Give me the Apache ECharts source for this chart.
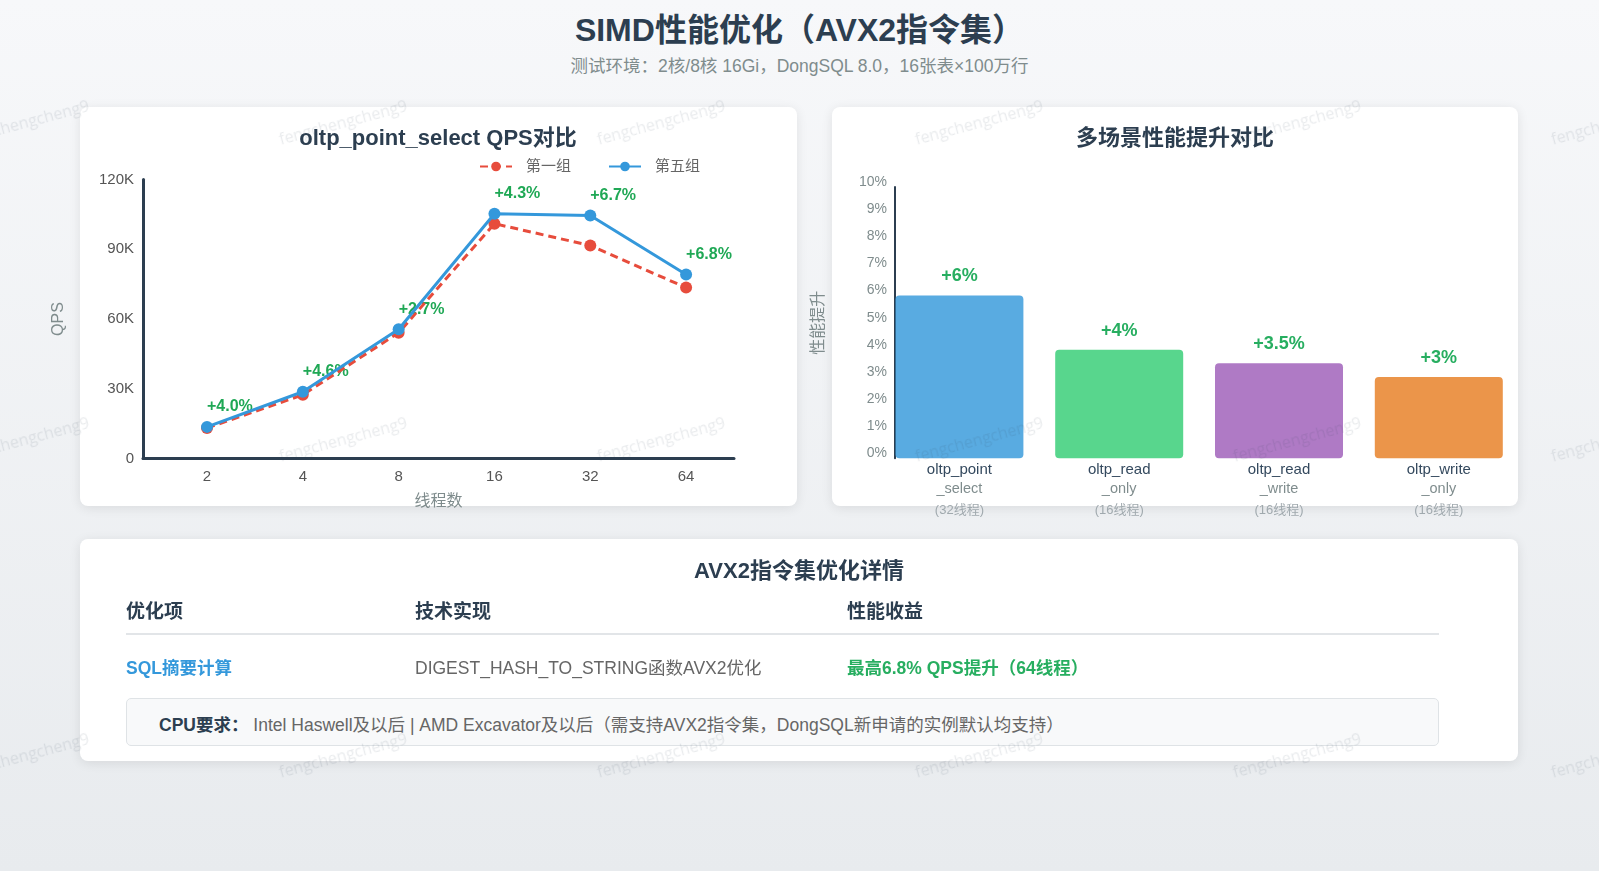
<!DOCTYPE html>
<html>
<head>
<meta charset="utf-8">
<script src="https://cdn.jsdelivr.net/npm/echarts@6/dist/echarts.min.js"></script>
<style>
html,body{margin:0;padding:0;width:1599px;height:871px;overflow:hidden;}
body{background:linear-gradient(180deg,#f7f8fa 0%,#e8ebee 100%);font-family:"Liberation Sans","Noto Sans CJK SC",sans-serif;position:relative;}
.h1{position:absolute;left:0;width:1599px;top:12px;text-align:center;font-size:32px;line-height:36px;font-weight:bold;color:#2c3e50;}
.sub{position:absolute;left:0;width:1599px;top:55px;text-align:center;font-size:17.5px;line-height:22px;color:#7f8c8d;}
.card{position:absolute;background:#fff;border-radius:8px;box-shadow:0 2px 12px rgba(0,0,0,0.09);}
.chart{position:absolute;}
.t3{position:absolute;left:0;width:100%;top:17px;text-align:center;font-size:22px;line-height:30px;font-weight:bold;color:#2c3e50;}
.th{position:absolute;top:60px;font-size:19px;line-height:26px;font-weight:bold;color:#2c3e50;white-space:nowrap;}
.hr{position:absolute;left:46px;top:94px;width:1313px;height:2px;background:#e2e5e8;}
.td{position:absolute;top:116px;font-size:17.5px;line-height:26px;color:#666;white-space:nowrap;}
.note{position:absolute;left:46px;top:159px;width:1313px;height:48px;box-sizing:border-box;border:1px solid #dfe3e6;border-radius:5px;background:#f8f9fa;padding-left:32px;padding-top:3px;font-size:17.5px;line-height:46px;color:#666;white-space:nowrap;}
.note b{color:#2c3e50;}
#wm{position:absolute;left:0;top:0;width:1599px;height:871px;pointer-events:none;z-index:10;overflow:hidden;}
#wm span{position:absolute;font-size:16px;color:rgba(44,62,80,0.1);white-space:nowrap;transform:translate(-50%,-50%) rotate(-15deg);font-family:"Open Sans","Liberation Sans",sans-serif;}
</style>
</head>
<body>
<div class="h1">SIMD性能优化（AVX2指令集）</div>
<div class="sub">测试环境：2核/8核 16Gi，DongSQL 8.0，16张表×100万行</div>

<div class="card" style="left:80px;top:107px;width:717px;height:399px;"></div>
<div class="card" style="left:832px;top:107px;width:686px;height:399px;"></div>

<div class="chart" id="c1" style="left:0px;top:100px;width:810px;height:430px;"></div>
<div class="chart" id="c2" style="left:790px;top:100px;width:760px;height:430px;"></div>

<div class="card" style="left:80px;top:539px;width:1438px;height:222px;">
  <div class="t3">AVX2指令集优化详情</div>
  <div class="th" style="left:46px;">优化项</div>
  <div class="th" style="left:335px;">技术实现</div>
  <div class="th" style="left:767px;">性能收益</div>
  <div class="hr"></div>
  <div class="td" style="left:46px;color:#3498db;font-weight:bold;">SQL摘要计算</div>
  <div class="td" style="left:335px;">DIGEST_HASH_TO_STRING函数AVX2优化</div>
  <div class="td" style="left:767px;color:#27ae60;font-weight:bold;">最高6.8% QPS提升（64线程）</div>
  <div class="note"><b>CPU要求：</b> Intel Haswell及以后 | AMD Excavator及以后（需支持AVX2指令集，DongSQL新申请的实例默认均支持）</div>
</div>

<div id="wm"></div>

<script>
// ---- data ----
const threads = ['2', '4', '8', '16', '32', '64'];
const group1 = [13100, 27400, 54100, 101000, 91600, 73500];
const group5 = [13600, 28700, 55600, 105300, 104500, 79100];
const gainLabels = ['+4.0%', '+4.6%', '+2.7%', '+4.3%', '+6.7%', '+6.8%'];
const qpsTicks = ['0', '30K', '60K', '90K', '120K'];

const scenarioMain = ['oltp_point', 'oltp_read', 'oltp_read', 'oltp_write'];
const scenarioSub = ['_select', '_only', '_write', '_only'];
const scenarioThreads = ['(32线程)', '(16线程)', '(16线程)', '(16线程)'];
const gains = [6, 4, 3.5, 3];

const watermarkText = 'fengchengcheng9';

// ---- styles ----
const FONT = '"Liberation Sans","Noto Sans CJK SC",sans-serif';
const barColors = ['rgba(52,152,219,0.82)', 'rgba(46,204,113,0.8)', 'rgba(155,89,182,0.8)', 'rgba(230,126,34,0.82)'];

// ---- left chart ----
const c1 = echarts.init(document.getElementById('c1'));
c1.setOption({
  animation: false,
  textStyle: { fontFamily: FONT },
  title: {
    text: 'oltp_point_select QPS对比', left: 438, top: 28, textAlign: 'center', padding: 0,
    textStyle: { fontSize: 22, fontWeight: 'bold', color: '#2c3e50', lineHeight: 22, fontFamily: FONT }
  },
  legend: {
    data: ['第一组', '第五组'], left: 479, top: 59, padding: 0,
    itemWidth: 32, itemHeight: 12, itemGap: 37,
    textStyle: { fontSize: 15, color: '#666', padding: [0, 0, 0, 9], fontFamily: FONT }
  },
  grid: { left: 143, top: 79.5, width: 591, height: 279 },
  xAxis: {
    type: 'value', min: -0.668, max: 5.5,
    name: '线程数', nameLocation: 'middle', nameGap: 35,
    nameTextStyle: { fontSize: 16, color: '#7f8c8d', fontFamily: FONT },
    axisLine: { show: true, onZero: false, lineStyle: { color: '#2c3e50', width: 3 } },
    axisTick: { show: false }, splitLine: { show: false },
    axisLabel: { customValues: [0, 1, 2, 3, 4, 5], formatter: v => threads[Math.round(v)], margin: 11, fontSize: 15, color: '#555', fontFamily: FONT }
  },
  yAxis: {
    type: 'value', min: 0, max: 120000, interval: 30000,
    name: 'QPS', nameLocation: 'middle', nameGap: 76,
    nameTextStyle: { fontSize: 16, color: '#7f8c8d', fontFamily: FONT },
    axisLine: { show: true, onZero: false, lineStyle: { color: '#2c3e50', width: 3 } },
    axisTick: { show: false }, splitLine: { show: false },
    axisLabel: { formatter: v => qpsTicks[Math.round(v / 30000)], margin: 9, fontSize: 15, color: '#555', fontFamily: FONT }
  },
  series: [
    {
      name: 'gain', type: 'scatter', z: 1, silent: true,
      data: group5.map((v, i) => [i, v]), symbolSize: 12, itemStyle: { color: 'rgba(0,0,0,0)' },
      label: {
        show: true, position: [6, -14], align: 'left', verticalAlign: 'middle', opacity: 1,
        formatter: p => gainLabels[p.dataIndex], color: '#1fa855', fontSize: 16, fontWeight: 'bold', fontFamily: FONT
      }
    },
    {
      name: '第一组', type: 'line', z: 2,
      data: group1.map((v, i) => [i, v]), symbol: 'circle', symbolSize: 12, showAllSymbol: true,
      lineStyle: { color: '#e74c3c', width: 3, type: [8, 5] }, itemStyle: { color: '#e74c3c' }
    },
    {
      name: '第五组', type: 'line', z: 3,
      data: group5.map((v, i) => [i, v]), symbol: 'circle', symbolSize: 12, showAllSymbol: true,
      lineStyle: { color: '#3498db', width: 3 }, itemStyle: { color: '#3498db' }
    }
  ]
});

// ---- right chart ----
const c2 = echarts.init(document.getElementById('c2'));
c2.setOption({
  animation: false,
  textStyle: { fontFamily: FONT },
  title: {
    text: '多场景性能提升对比', left: 385, top: 28, textAlign: 'center', padding: 0,
    textStyle: { fontSize: 22, fontWeight: 'bold', color: '#2c3e50', lineHeight: 22, fontFamily: FONT }
  },
  grid: { left: 89.5, top: 87, width: 639.2, height: 271.3 },
  xAxis: {
    type: 'category', data: scenarioMain.map((m, i) => m + scenarioSub[i]),
    axisLine: { show: false }, axisTick: { show: false },
    axisLabel: {
      margin: 2, interval: 0,
      formatter: (v, i) => '{a|' + scenarioMain[i] + '}\n{b|' + scenarioSub[i] + '}\n{c|' + scenarioThreads[i] + '}',
      rich: {
        a: { fontSize: 15, color: '#34495e', lineHeight: 19, fontFamily: FONT },
        b: { fontSize: 14.5, color: '#7f8c8d', lineHeight: 20, fontFamily: FONT },
        c: { fontSize: 13, color: '#a0a9ae', lineHeight: 22, fontFamily: FONT }
      }
    }
  },
  yAxis: {
    type: 'value', min: 0, max: 10, interval: 1, offset: -15.5,
    name: '性能提升', nameLocation: 'middle', nameGap: 68,
    nameTextStyle: { fontSize: 16, color: '#7f8c8d', fontFamily: FONT },
    axisLine: { show: true, lineStyle: { color: '#2c3e50', width: 2 } },
    axisTick: { show: false }, splitLine: { show: false },
    axisLabel: { formatter: '{value}%', margin: 8, fontSize: 14, color: '#7f8c8d', verticalAlign: 'bottom', lineHeight: 10, fontFamily: FONT }
  },
  series: [{
    type: 'bar', data: gains, barWidth: 128,
    itemStyle: { borderRadius: 4, color: p => barColors[p.dataIndex] },
    label: {
      show: true, position: 'top', distance: 10,
      formatter: p => '+' + p.value + '%', color: '#27ae60', fontSize: 18, fontWeight: 'bold', fontFamily: FONT
    }
  }]
});

// ---- watermark ----
const wm = document.getElementById('wm');
for (let r = 0; r < 3; r++) {
  for (let c = 0; c < 6; c++) {
    const s = document.createElement('span');
    s.textContent = watermarkText;
    s.style.left = (25 + c * 318) + 'px';
    s.style.top = (122 + r * 316.5) + 'px';
    wm.appendChild(s);
  }
}
</script>
</body>
</html>
